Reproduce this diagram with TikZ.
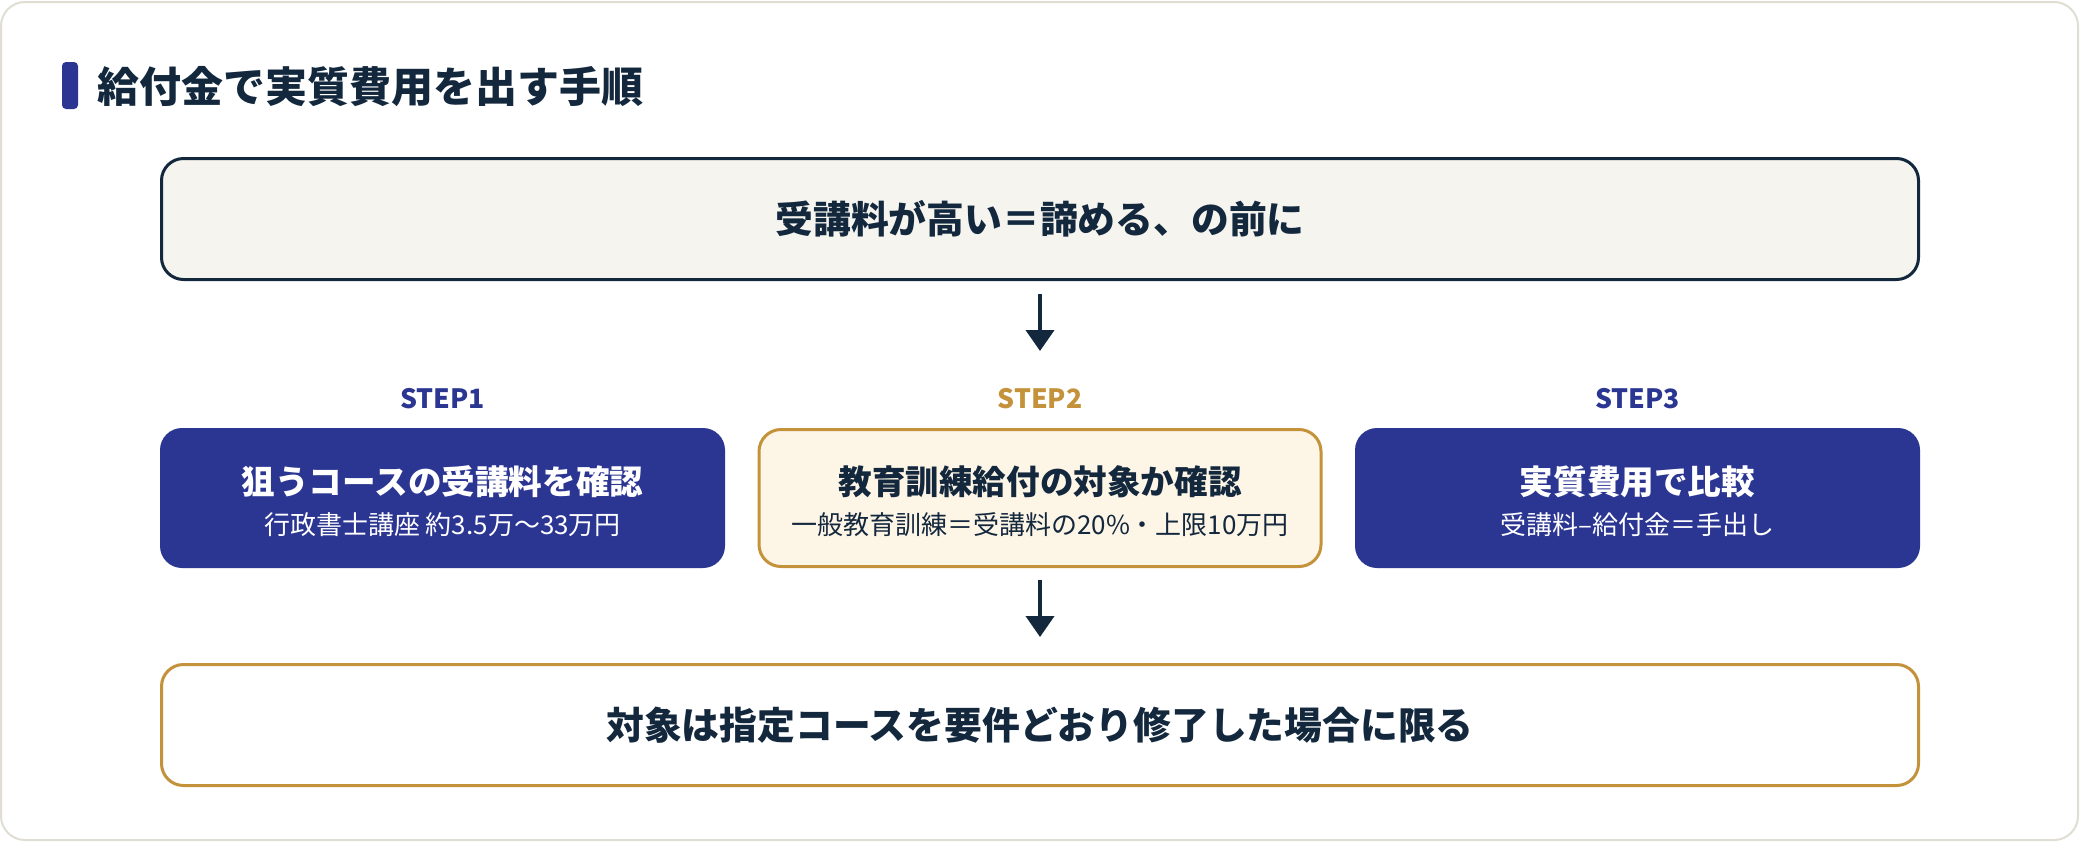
\documentclass[tikz,border=0pt]{standalone}
\usepackage{fontspec}
\setmainfont{Noto Sans CJK JP}
\usetikzlibrary{arrows.meta}
\definecolor{navy}{HTML}{2B3592}
\definecolor{ink}{HTML}{13273D}
\definecolor{gold}{HTML}{C4923A}
\definecolor{cream}{HTML}{FDF5E6}
\definecolor{paper}{HTML}{F5F4EF}
\definecolor{cardline}{HTML}{E0DED2}
\tikzset{
    card/.style={draw=cardline,line width=1pt,fill=white,rounded corners=12pt},
    wide/.style={rounded corners=11pt,line width=1.5pt,minimum width=878.5pt,
        minimum height=60.5pt,inner sep=0pt,text=ink,
        font=\bfseries\fontsize{18.9}{22}\selectfont},
    navybox/.style={rounded corners=11pt,fill=navy,minimum width=282.5pt,
        minimum height=70pt,inner sep=0pt},
    creambox/.style={rounded corners=11pt,fill=cream,draw=gold,line width=1.5pt,
        minimum width=281pt,minimum height=68.5pt,inner sep=0pt},
    lab/.style={font=\bfseries\fontsize{13.3}{16}\selectfont,inner sep=0pt},
    headtxt/.style={font=\bfseries\fontsize{16.8}{20}\selectfont,inner sep=0pt},
    subtxt/.style={font=\fontsize{13}{15}\selectfont,inner sep=0pt},
    flow/.style={draw=ink,line width=2pt,-{Triangle[width=14pt,length=10.5pt]}}
}
\begin{document}
\begin{tikzpicture}[x=0.5pt,y=-0.5pt]
    \useasboundingbox (0,0) rectangle (2080,842);
    \draw[card] (1,2) rectangle (2078,840);
    % title
    \fill[navy,rounded corners=2pt] (62,62) rectangle (78,109);
    \node[anchor=west,inner sep=0pt,text=ink,
        font=\bfseries\fontsize{21}{25}\selectfont]
        (title) at (97,87) {給付金で実質費用を出す手順};
    % top and bottom
    \node[wide,draw=ink,fill=paper] (top) at (1040,219)
        {受講料が高い＝諦める、の前に};
    \node[wide,draw=gold,fill=white] (bottom) at (1040,725)
        {対象は指定コースを要件どおり修了した場合に限る};
    % steps
    \foreach \i/\xc/\sty/\labcol/\txtcol/\ttl/\dsc in
        {1/442.5/navybox/navy/white/狙うコースの受講料を確認/行政書士講座 約3.5万〜33万円,
         2/1040/creambox/gold/ink/教育訓練給付の対象か確認/一般教育訓練＝受講料の20\%・上限10万円,
         3/1637.5/navybox/navy/white/実質費用で比較/受講料–給付金＝手出し}
    {\node[\sty] (step\i) at (\xc,498) {};
     \node[lab,text=\labcol] (lab\i) at (\xc,399) {STEP\i};
     \node[headtxt,text=\txtcol] (head\i)
        at ([yshift=8pt]step\i.center) {\ttl};
     \node[subtxt,text=\txtcol] (sub\i)
        at ([yshift=-13.5pt]step\i.center) {\dsc};}
    \draw[flow,shorten <=6.5pt,shorten >=38.5pt] (top.south)--(step2.north);
    \draw[flow,shorten <=6pt,shorten >=13pt] (step2.south)--(bottom.north);
\end{tikzpicture}
\end{document}
